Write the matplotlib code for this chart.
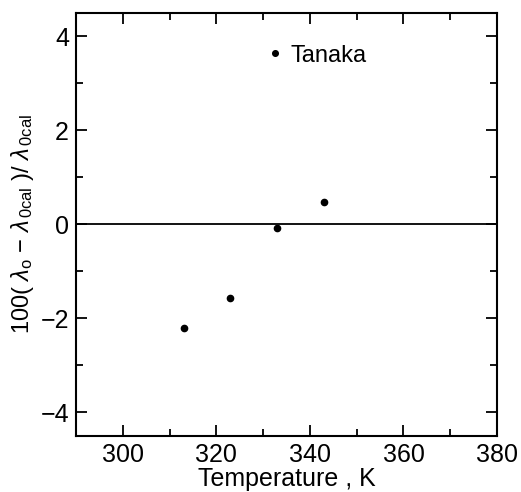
import numpy as np
import matplotlib.pyplot as plt
from matplotlib.ticker import MultipleLocator

plt.rcParams['font.family'] = ['Liberation Sans', 'DejaVu Sans']
plt.rcParams['mathtext.fontset'] = 'custom'
plt.rcParams['mathtext.rm'] = 'Liberation Sans'
plt.rcParams['mathtext.it'] = 'Liberation Sans:italic'

# Datos
temperatura = [313, 323, 333, 343]
desviacion = [-2.2, -1.57, -0.08, 0.47]
serie = "Tanaka"

fig = plt.figure(figsize=(5.21, 4.92), dpi=100)
ax = fig.add_axes([0.146, 0.114, 0.808, 0.860])

ax.plot(temperatura, desviacion, 'o', color='black', markersize=4.5, label=serie)
ax.axhline(0, color='black', linewidth=1.3)

ax.set_xlim(290, 380)
ax.set_ylim(-4.5, 4.5)
ax.xaxis.set_major_locator(MultipleLocator(20))
ax.xaxis.set_minor_locator(MultipleLocator(10))
ax.yaxis.set_major_locator(MultipleLocator(2))
ax.yaxis.set_minor_locator(MultipleLocator(1))
ax.tick_params(which='both', direction='in', top=True, right=True, width=1.3, labelsize=18, pad=5)
ax.tick_params(which='major', length=8)
ax.tick_params(which='minor', length=5)
for s in ax.spines.values():
    s.set_linewidth(1.5)

ax.set_xlabel("Temperature , K", fontsize=18, labelpad=0)
ax.set_ylabel(r"100( $\lambda_{\rm o}$ $-$ $\lambda_{\rm \,0cal}$ )/ $\lambda_{\rm \,0cal}$", fontsize=17, labelpad=3)

ax.legend(loc='upper left', bbox_to_anchor=(0.422, 0.958), frameon=False, fontsize=17,
          handlelength=0.6, handletextpad=0.35, markerscale=0.9, borderaxespad=0.2)

fig.savefig("out.png", dpi=100)
